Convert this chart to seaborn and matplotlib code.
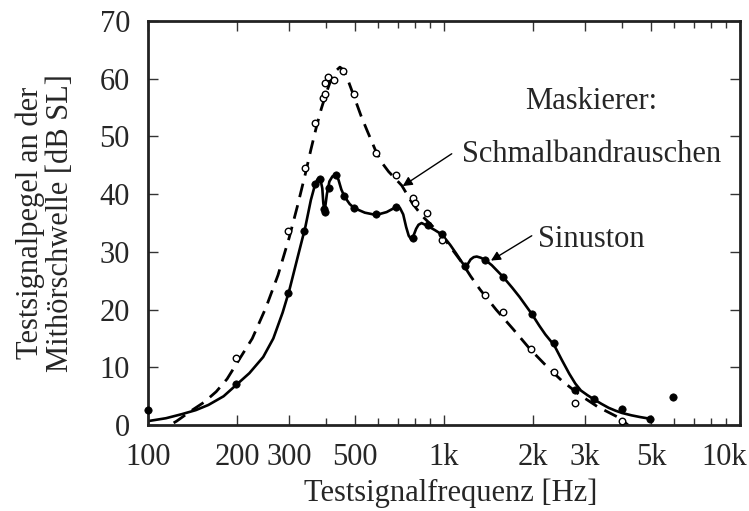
import numpy as np
import pandas as pd
import seaborn as sns
import matplotlib
matplotlib.use('Agg')
import matplotlib.pyplot as plt
import matplotlib.ticker as ticker
import matplotlib.transforms as mtransforms

# measured points, Sinuston masker (filled dots)
sinus_f = [100, 199, 298, 337, 366, 381, 394, 396, 409, 431, 461, 497, 590, 690,
           784, 880, 985, 1180, 1379, 1582, 1983, 2359, 2777, 3204, 3991, 4978, 5953]
sinus_db = [2.6, 7.1, 22.9, 33.6, 41.7, 42.7, 37.5, 36.9, 41.0, 43.3, 39.6, 37.6, 36.6, 37.8,
            32.4, 34.7, 33.1, 27.5, 28.6, 25.7, 19.2, 14.2, 6.1, 4.6, 2.8, 1.1, 4.8]

# measured points, narrow band noise masker (open circles)
noise_f = [199, 298, 338, 366, 390, 395, 397, 406, 426, 457, 495, 590, 690, 784, 795,
           878, 985, 1379, 1582, 1972, 2359, 2777, 3983]
noise_db = [11.6, 33.7, 44.6, 52.4, 56.7, 57.3, 59.2, 60.3, 59.8, 61.4, 57.3, 47.2, 43.3,
            39.4, 38.4, 36.8, 32.1, 22.5, 19.6, 13.2, 9.2, 3.8, 0.7]

# hand drawn curves
sinus_curve_f = [100, 115, 130, 145, 160, 180, 200, 220, 245, 265, 285, 300, 320, 340, 355,
                 366, 373, 378, 383, 388, 391, 394, 397, 402, 410, 420, 432, 440, 450, 461,
                 480, 497, 540, 590, 640, 690, 710, 728, 745, 760, 775, 790, 805, 820, 840,
                 880, 930, 985, 1050, 1100, 1150, 1180, 1200, 1230, 1260, 1290, 1330, 1379,
                 1450, 1582, 1700, 1800, 1983, 2100, 2200, 2359, 2500, 2650, 2777, 2900,
                 3050, 3204, 3400, 3600, 3800, 4000, 4300, 4600, 4978]
sinus_curve_db = [0.7, 1.2, 1.9, 2.6, 3.5, 5.0, 7.1, 9.0, 11.8, 15.0, 19.5, 23.3, 29.0, 34.3,
                  39.0, 41.5, 42.5, 42.7, 42.4, 41.0, 38.5, 37.2, 37.8, 40.0, 42.2, 43.1,
                  43.3, 42.5, 40.8, 39.6, 38.3, 37.6, 36.8, 36.4, 36.9, 37.8, 37.6, 36.5,
                  34.3, 32.8, 32.2, 32.9, 34.0, 34.7, 35.0, 34.5, 33.8, 33.0, 31.2, 29.7,
                  28.2, 27.5, 27.8, 28.7, 29.1, 29.2, 29.0, 28.6, 27.7, 25.7, 23.8, 22.2,
                  19.2, 17.2, 15.7, 13.8, 11.3, 8.9, 7.2, 6.0, 5.2, 4.5, 3.7, 3.0, 2.5,
                  2.1, 1.7, 1.4, 1.1]

noise_curve_f = [105, 115, 125, 140, 155, 170, 185, 200, 225, 250, 275, 300, 320, 340, 355,
                 370, 385, 400, 415, 430, 445, 458, 475, 500, 525, 550, 590, 620, 650, 690,
                 720, 780, 841, 900, 985, 1060, 1148, 1230, 1323, 1500, 1714, 1950, 2222,
                 2500, 2881, 3300, 3932, 4300]
noise_curve_db = [-1.5, -0.4, 0.7, 2.5, 4.0, 5.8, 8.0, 10.8, 15.0, 20.3, 26.0, 32.5, 38.0,
                  43.5, 47.7, 51.5, 54.8, 57.5, 59.8, 61.3, 62.0, 61.5, 59.6, 56.5, 53.5,
                  51.0, 47.3, 45.3, 43.9, 42.5, 41.5, 38.5, 36.3, 34.8, 32.8, 30.6, 28.2,
                  25.8, 23.5, 20.0, 16.6, 13.2, 10.2, 7.7, 5.2, 3.2, 1.2, -0.5]

x_ticks = [100, 200, 300, 500, 1000, 2000, 3000, 5000, 10000]
x_ticklabels = ['100', '200', '300', '500', '1k', '2k', '3k', '5k', '10k']
x_minor = [400, 600, 700, 800, 900, 4000, 6000, 7000, 8000, 9000]

sns.set_style('ticks')
plt.rcParams['font.family'] = ['Liberation Serif', 'DejaVu Serif']

FS = 22

fig = plt.figure(figsize=(7.49, 5.11), dpi=100)
ax = fig.add_axes([0.1976, 0.168, 0.7904, 0.791])

sinus_curve = pd.DataFrame({'f': sinus_curve_f, 'db': sinus_curve_db})
noise_curve = pd.DataFrame({'f': noise_curve_f, 'db': noise_curve_db})

sns.lineplot(data=noise_curve, x='f', y='db', sort=False, ax=ax, color='black',
             lw=2.0, linestyle=(0, (5, 3)))
sns.lineplot(data=sinus_curve, x='f', y='db', sort=False, ax=ax, color='black', lw=1.9)

sns.scatterplot(x=noise_f, y=noise_db, ax=ax, marker='o', s=22, facecolor='white',
                edgecolor='black', linewidth=1.0, zorder=5, clip_on=False)
sns.scatterplot(x=sinus_f, y=sinus_db, ax=ax, marker='o', s=28, color='black',
                edgecolor='black', linewidth=0.5, zorder=6, clip_on=False)

ax.set_xscale('log')
ax.set_xlim(100, 10000)
ax.set_ylim(0, 70)
ax.xaxis.set_major_locator(ticker.FixedLocator(x_ticks))
ax.xaxis.set_major_formatter(ticker.FixedFormatter(x_ticklabels))
ax.xaxis.set_minor_locator(ticker.FixedLocator(x_minor))
ax.xaxis.set_minor_formatter(ticker.NullFormatter())
ax.yaxis.set_major_locator(ticker.MultipleLocator(10))

ax.tick_params(which='both', direction='in', top=True, right=True, labelsize=FS,
               width=1.0, color='#333333')
ax.tick_params(which='major', length=7)
ax.tick_params(which='minor', length=5)
ax.tick_params(axis='x', pad=13)
ax.tick_params(axis='y', pad=13)
for s in ax.spines.values():
    s.set_linewidth(2.0)
    s.set_color('#222222')

# last x label sits a bit inside the figure, as in the original
fig.canvas.draw()
last = ax.get_xticklabels()[-1]
last.set_transform(last.get_transform() +
                   mtransforms.ScaledTranslation(-0.16, 0, fig.dpi_scale_trans))

ax.set_xlabel('Testsignalfrequenz [Hz]', fontsize=FS)
ax.xaxis.set_label_coords(0.512, -0.132)
ax.set_ylabel('Testsignalpegel an der\nMithörschwelle [dB SL]', fontsize=FS,
              linespacing=1.05)
ax.yaxis.set_label_coords(-0.123, 0.5)

ax.text(1878, 56.0, 'Maskierer:', fontsize=FS, ha='left', va='center')
ax.text(1150, 46.8, 'Schmalbandrauschen', fontsize=FS, ha='left', va='center')
ax.text(2078, 32.1, 'Sinuston', fontsize=FS, ha='left', va='center')

arrow = dict(arrowstyle='-|>', color='black', lw=1.0, mutation_scale=14,
             shrinkA=0, shrinkB=0)
ax.annotate('', xy=(725, 41.4), xytext=(1062, 47.0), arrowprops=arrow)
ax.annotate('', xy=(1441, 28.5), xytext=(1979, 32.8), arrowprops=arrow)

fig.savefig('out.png', dpi=100)
